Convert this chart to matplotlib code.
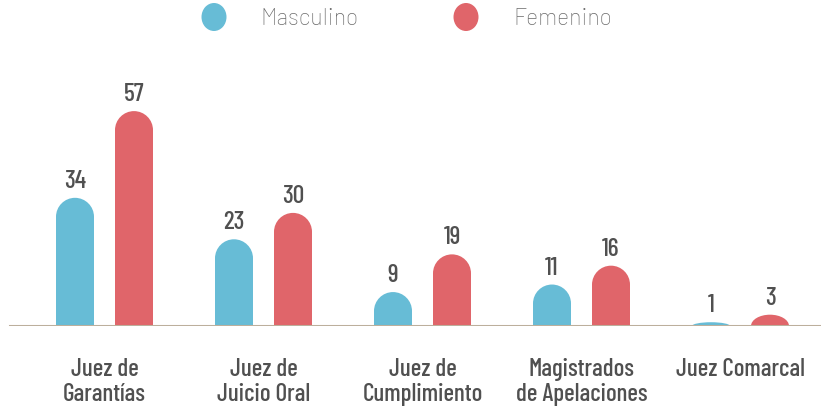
import matplotlib
matplotlib.use("Agg")
import matplotlib.pyplot as plt
from matplotlib.path import Path
from matplotlib.patches import PathPatch, Ellipse
import numpy as np

categories = ["Juez de\nGarantías", "Juez de\nJuicio Oral", "Juez de\nCumplimiento",
              "Magistrados\nde Apelaciones", "Juez Comarcal"]
masculino = [34, 23, 9, 11, 1]
femenino = [57, 30, 19, 16, 3]
series_names = ["Masculino", "Femenino"]
colors = ["#67BCD6", "#E0656A"]

W, H = 821, 410
fig = plt.figure(figsize=(W / 100, H / 100), dpi=100)
base_px = 83  # baseline distance from bottom in px
ax = fig.add_axes([0, base_px / H, 1, 1 - base_px / H])
px_per_unit_y = 3.77
ax.set_ylim(0, (H - base_px) / px_per_unit_y)
px_per_group = 159.0
first_center = 104.5
ax.set_xlim(-first_center / px_per_group, (W - first_center) / px_per_group)
ax.axis("off")

bw = 38 / px_per_group
off = 29.5 / px_per_group
cap = 19 / px_per_unit_y  # cap height in data units

cond = ["Barlow Condensed", "Liberation Sans Narrow", "DejaVu Sans"]
x = np.arange(len(categories))


def rounded_bar(xc, h, color):
    l, r = xc - bw / 2, xc + bw / 2
    c = min(cap, h)
    ys = h - c
    k = 0.5523
    hw = bw / 2
    verts = [(l, 0), (l, ys),
             (l, ys + c * k), (xc - hw * k, h), (xc, h),
             (xc + hw * k, h), (r, ys + c * k), (r, ys),
             (r, 0), (l, 0)]
    codes = [Path.MOVETO, Path.LINETO,
             Path.CURVE4, Path.CURVE4, Path.CURVE4,
             Path.CURVE4, Path.CURVE4, Path.CURVE4,
             Path.LINETO, Path.CLOSEPOLY]
    ax.add_patch(PathPatch(Path(verts, codes), facecolor=color, edgecolor="none", zorder=2))


for vals, sgn, col in [(masculino, -1, colors[0]), (femenino, 1, colors[1])]:
    bars = ax.bar(x + sgn * off, vals, width=bw, color="none", edgecolor="none")
    for b, v in zip(bars, vals):
        xc = b.get_x() + b.get_width() / 2
        rounded_bar(xc, b.get_height(), col)
        ax.text(xc, v + 6 / px_per_unit_y, str(v), ha="center", va="bottom",
                fontsize=18.5, color="#505050", family=cond, fontweight="medium")

# baseline
ax.axhline(0, xmin=10 / W, xmax=1, color="#BCAF9C", lw=2.2, zorder=3)

# category labels
for xi, lab in zip(x, categories):
    fig.text((first_center + xi * px_per_group) / W, 1 - 358 / H, lab, ha="center", va="top",
             fontsize=18, color="#505050", family=cond, fontweight="medium", linespacing=1.1)

# legend
for cx, tx, name, col in [(214, 260, series_names[0], colors[0]), (466, 513, series_names[1], colors[1])]:
    fig.patches.append(Ellipse((cx / W, 1 - 18 / H), 25 / W, 28 / H, transform=fig.transFigure,
                               facecolor=col, edgecolor="none"))
    fig.text(tx / W, 1 - 19 / H, name, ha="left", va="center", fontsize=16.5,
             color="#6a6a6a", family=["Barlow", "Lato", "DejaVu Sans"], fontweight="light")

fig.savefig("out.png", dpi=100)
